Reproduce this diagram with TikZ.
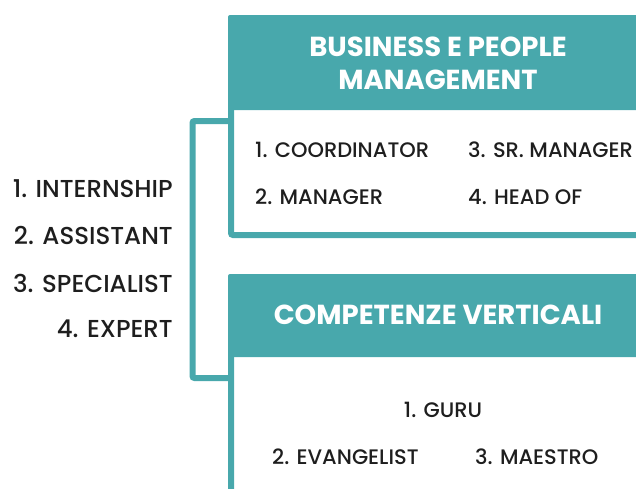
\documentclass[tikz,border=0pt]{standalone}
\usepackage{fontspec}
\setmainfont{Poppins}
\newfontfamily\medfont{Poppins Medium}
\definecolor{teal1}{HTML}{48A8AC}
\definecolor{ink}{HTML}{1E1E1E}
\begin{document}
\begin{tikzpicture}[x=1pt,y=-1pt,
  boxline/.style={draw=teal1,line width=6pt,rounded corners=2pt},
  headfill/.style={fill=teal1},
  headtxt/.style={text=white,font=\fontsize{27.5}{33}\selectfont\bfseries,align=center,inner sep=0pt},
  itemtxt/.style={text=ink,font=\medfont\fontsize{21}{24}\selectfont,inner sep=0pt,anchor=west},
  lefttxt/.style={text=ink,font=\medfont\fontsize{24.5}{28}\selectfont,inner sep=0pt,anchor=east},
  bracket/.style={draw=teal1,line width=6pt,rounded corners=2pt}]
\useasboundingbox (0,0) rectangle (636,488);
% box 1
\fill[headfill,rounded corners=2pt] (228,15) rectangle (648,110);
\draw[boxline] (231,18) rectangle (645,235);
\node[headtxt] (h1) at (438,63) {BUSINESS E PEOPLE\\MANAGEMENT};
\node[itemtxt] (a1) at (255,150) {1. COORDINATOR};
\node[itemtxt] (a3) at (468,150) {3. SR. MANAGER};
\node[itemtxt] (a2) at (255,197) {2. MANAGER};
\node[itemtxt] (a4) at (468,197) {4. HEAD OF};
% box 2
\fill[headfill,rounded corners=2pt] (228,274) rectangle (648,357);
\draw[boxline] (231,277) -- (231,520) -- (645,520) -- (645,277) -- cycle;
\node[headtxt] (h2) at (438,315) {COMPETENZE VERTICALI};
\node[itemtxt,anchor=center] (b1) at (443,410) {1. GURU};
\node[itemtxt] (b2) at (272,457) {2. EVANGELIST};
\node[itemtxt] (b3) at (475,457) {3. MAESTRO};
% left list
\node[lefttxt] (l1) at (173,189) {1. INTERNSHIP};
\node[lefttxt] (l2) at (173,235) {2. ASSISTANT};
\node[lefttxt] (l3) at (173,283) {3. SPECIALIST};
\node[lefttxt] (l4) at (173,329) {4. EXPERT};
% bracket
\coordinate (t) at (231,121);
\coordinate (b) at (231,378);
\draw[bracket] (t) -- (192.5,121) -- (192.5,378) -- (b);
\end{tikzpicture}
\end{document}
